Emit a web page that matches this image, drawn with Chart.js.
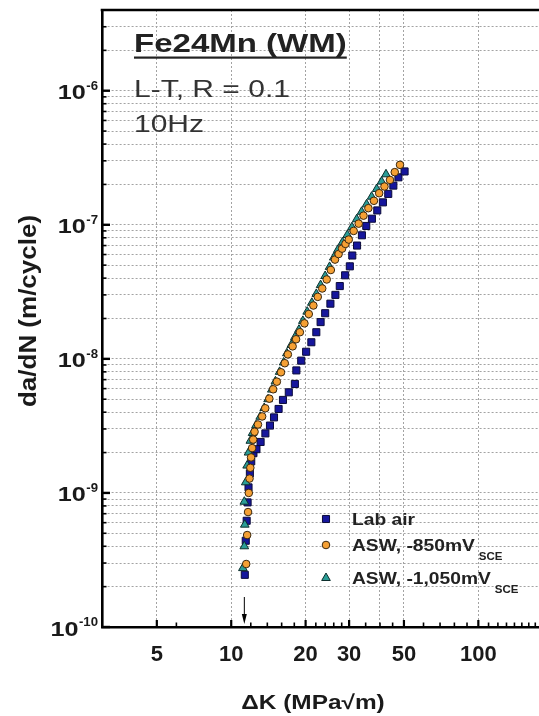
<!DOCTYPE html>
<html>
<head>
<meta charset="utf-8">
<script src="https://cdn.jsdelivr.net/npm/chart.js@4.4.1/dist/chart.umd.min.js"></script>
<style>
  html, body { margin: 0; padding: 0; background: #fff; }
  #wrap { width: 539px; height: 716px; position: relative; }
</style>
</head>
<body>
<div id="wrap"><canvas id="fcgChart"></canvas></div>
<script>
// delta K (MPa sqrt m) and da/dN (m/cycle)
const labAirDK = [11.35, 11.45, 11.55, 11.65, 11.75, 11.9, 12.05, 12.3, 12.65, 13.15, 13.75, 14.35, 14.9, 15.55, 16.2, 17.1, 18.1, 18.35, 19.2, 20.1, 21.1, 22.1, 23.0, 24.0, 25.2, 26.4, 27.5, 28.9, 30.2, 30.9, 32.3, 33.8, 35.2, 37.1, 39.0, 41.1, 43.2, 45.3, 47.5, 50.3];
const labAirRate = [2.45e-10, 4.4e-10, 6.2e-10, 8.5e-10, 1.1e-9, 1.4e-9, 1.72e-9, 1.98e-9, 2.12e-9, 2.4e-9, 2.78e-9, 3.18e-9, 3.66e-9, 4.23e-9, 4.94e-9, 5.63e-9, 6.5e-9, 8.2e-9, 9.7e-9, 1.13e-8, 1.33e-8, 1.58e-8, 1.88e-8, 2.19e-8, 2.58e-8, 3.0e-8, 3.49e-8, 4.2e-8, 4.9e-8, 5.9e-8, 7.0e-8, 8.35e-8, 9.8e-8, 1.11e-7, 1.28e-7, 1.47e-7, 1.7e-7, 1.96e-7, 2.26e-7, 2.5e-7];

const asw850DK = [11.5, 11.6, 11.7, 11.78, 11.86, 11.95, 12.03, 12.15, 12.27, 12.43, 12.83, 13.34, 13.73, 14.26, 14.78, 15.3, 15.9, 16.47, 16.95, 17.72, 18.3, 18.96, 19.78, 20.6, 21.5, 22.4, 23.35, 24.35, 25.3, 26.3, 27.2, 28.1, 29.0, 29.9, 31.3, 32.8, 34.3, 35.9, 37.8, 39.7, 41.7, 43.9, 45.9, 48.2];
const asw850Rate = [2.95e-10, 4.85e-10, 7.2e-10, 1.0e-9, 1.28e-9, 1.54e-9, 1.84e-9, 2.16e-9, 2.5e-9, 2.86e-9, 3.24e-9, 3.72e-9, 4.28e-9, 5.05e-9, 5.93e-9, 6.76e-9, 7.94e-9, 9.28e-9, 1.08e-8, 1.24e-8, 1.4e-8, 1.58e-8, 1.84e-8, 2.16e-8, 2.5e-8, 2.9e-8, 3.35e-8, 3.91e-8, 4.6e-8, 5.5e-8, 6.05e-8, 6.64e-8, 7.2e-8, 7.76e-8, 9.0e-8, 1.02e-7, 1.17e-7, 1.33e-7, 1.51e-7, 1.72e-7, 1.93e-7, 2.16e-7, 2.47e-7, 2.8e-7];

const asw1050DK = [11.15, 11.3, 11.35, 11.3, 11.45, 11.6, 11.75, 11.95, 12.2, 12.6, 13.1, 13.6, 14.1, 14.6, 15.1, 15.7, 16.3, 16.8, 17.5, 18.1, 18.8, 19.5, 20.3, 21.2, 22.1, 23.0, 24.0, 25.0, 26.0, 27.0, 28.2, 29.5, 30.8, 32.2, 33.7, 35.3, 37.0, 38.8, 40.6, 42.3];
const asw1050Rate = [2.75e-10, 4.0e-10, 5.8e-10, 8.6e-10, 1.2e-9, 1.6e-9, 2.0e-9, 2.45e-9, 2.8e-9, 3.2e-9, 3.7e-9, 4.3e-9, 5.0e-9, 5.9e-9, 6.8e-9, 8.0e-9, 9.4e-9, 1.1e-8, 1.27e-8, 1.45e-8, 1.65e-8, 1.92e-8, 2.25e-8, 2.62e-8, 3.05e-8, 3.55e-8, 4.15e-8, 4.85e-8, 5.7e-8, 6.5e-8, 7.4e-8, 8.4e-8, 9.6e-8, 1.1e-7, 1.25e-7, 1.42e-7, 1.62e-7, 1.85e-7, 2.1e-7, 2.38e-7];

// axis ticks
const xTickValues = [5, 6, 10, 12, 14, 16, 18, 20, 22, 24, 26, 28, 30, 35, 40, 45, 50, 60, 70, 80, 90, 100, 110, 120, 130, 140, 150, 160, 170];
const xTickLabels = [5, 10, 20, 30, 50, 100];
const xGridValues = [5, 10, 20, 30, 40, 50, 100];
const yDecades = [1e-10, 1e-9, 1e-8, 1e-7, 1e-6];
const yDecadeLabels = ['-10', '-9', '-8', '-7', '-6'];
const yMinorSteps = [2, 3, 4, 5, 6, 7, 8, 9];
const arrowDK = 11.3;

const FONT = '"Liberation Sans", Arial, Helvetica, sans-serif';

function toPoints(xs, ys) {
    return xs.map((x, i) => ({ x: x, y: ys[i] }));
}

function isDecade(v) {
    return yDecades.some(d => Math.abs(v / d - 1) < 1e-6);
}

// text drawn with a horizontal stretch, as in the source figure
function stretchText(ctx, text, x, y, font, align, sx, baseline) {
    ctx.save();
    ctx.font = font;
    ctx.textBaseline = baseline || 'alphabetic';
    ctx.textAlign = 'left';
    const w = ctx.measureText(text).width * sx;
    let left = x;
    if (align === 'right') left = x - w;
    else if (align === 'center') left = x - w / 2;
    ctx.translate(left, y);
    ctx.scale(sx, 1);
    ctx.fillText(text, 0, 0);
    ctx.restore();
    return w;
}

const yTickValues = [];
yDecades.forEach(d => {
    yTickValues.push(d);
    if (d < 1e-6) yMinorSteps.forEach(m => yTickValues.push(m * d));
});
yTickValues.push(2e-6, 3e-6, 4e-6);

const decorations = {
    id: 'decorations',
    afterDatasetsDraw(chart) {
        const { ctx, chartArea, scales: { x, y } } = chart;
        ctx.save();
        ctx.strokeStyle = '#000';
        // inward tick marks
        x.ticks.forEach(t => {
            const px = x.getPixelForValue(t.value);
            const major = xTickLabels.includes(t.value);
            ctx.lineWidth = major ? 2.2 : 1.6;
            ctx.beginPath();
            ctx.moveTo(px, chartArea.bottom);
            ctx.lineTo(px, chartArea.bottom - (major ? 7 : 4.5));
            ctx.stroke();
        });
        y.ticks.forEach(t => {
            const py = y.getPixelForValue(t.value);
            const major = isDecade(t.value);
            ctx.lineWidth = major ? 2.4 : 1.6;
            ctx.beginPath();
            ctx.moveTo(chartArea.left, py);
            ctx.lineTo(chartArea.left + (major ? 8 : 4.5), py);
            ctx.stroke();
        });
        // top frame line
        ctx.lineWidth = 2.6;
        ctx.beginPath();
        ctx.moveTo(chartArea.left - 1.3, chartArea.top);
        ctx.lineTo(chartArea.right, chartArea.top);
        ctx.stroke();

        // arrow at the threshold
        const ax = x.getPixelForValue(arrowDK);
        ctx.lineWidth = 1;
        ctx.beginPath();
        ctx.moveTo(ax, chartArea.bottom - 30);
        ctx.lineTo(ax, chartArea.bottom - 8);
        ctx.stroke();
        ctx.fillStyle = '#000';
        ctx.beginPath();
        ctx.moveTo(ax, chartArea.bottom - 3);
        ctx.lineTo(ax - 2.5, chartArea.bottom - 13);
        ctx.lineTo(ax + 2.5, chartArea.bottom - 13);
        ctx.closePath();
        ctx.fill();

        ctx.fillStyle = '#1a1a1a';
        // y tick labels 10^n
        yDecades.forEach((d, i) => {
            const py = y.getPixelForValue(d);
            const ew = stretchText(ctx, yDecadeLabels[i], 98, py - 1, 'bold 12px ' + FONT, 'right', 1.1);
            stretchText(ctx, '10', 98 - ew - 0.5, py + 8.5, 'bold 21px ' + FONT, 'right', 1.2);
        });

        // axis titles
        ctx.save();
        ctx.translate(30, 311);
        ctx.rotate(-Math.PI / 2);
        stretchText(ctx, 'da/dN (m/cycle)', 0, 0, 'bold 23px ' + FONT, 'center', 1.13, 'middle');
        ctx.restore();
        stretchText(ctx, '\u0394K (MPa\u221Am)', 313, 703, 'bold 20px ' + FONT, 'center', 1.22, 'middle');

        // annotation block
        ctx.fillStyle = '#222';
        const tw = stretchText(ctx, 'Fe24Mn (WM)', 134, 52, 'bold 26px ' + FONT, 'left', 1.27);
        ctx.fillRect(134, 56.5, tw, 2.2);
        ctx.fillStyle = '#333';
        stretchText(ctx, 'L-T, R = 0.1', 134, 97, '24px ' + FONT, 'left', 1.25);
        stretchText(ctx, '10Hz', 134, 132, '24px ' + FONT, 'left', 1.25);

        // legend
        const rows = [
            { ds: 0, y: 519, text: 'Lab air', sub: '' },
            { ds: 1, y: 545, text: 'ASW, -850mV', sub: 'SCE' },
            { ds: 2, y: 578, text: 'ASW, -1,050mV', sub: 'SCE' }
        ];
        rows.forEach(r => {
            const ds = chart.data.datasets[r.ds];
            ctx.save();
            ctx.fillStyle = ds.backgroundColor;
            ctx.strokeStyle = ds.borderColor;
            ctx.lineWidth = 1;
            Chart.helpers.drawPoint(ctx, { pointStyle: ds.pointStyle, radius: ds.pointRadius, rotation: 0, borderWidth: 1 }, 326, r.y);
            ctx.restore();
            ctx.fillStyle = '#222';
            const w = stretchText(ctx, r.text, 352, r.y + 6, 'bold 17px ' + FONT, 'left', 1.13);
            if (r.sub) stretchText(ctx, r.sub, 352 + w + 4, r.y + 14.5, 'bold 10px ' + FONT, 'left', 1.15);
        });
        ctx.restore();
    }
};

const ctx = document.getElementById('fcgChart').getContext('2d');
new Chart(ctx, {
    type: 'scatter',
    data: {
        datasets: [
            {
                label: 'Lab air',
                data: toPoints(labAirDK, labAirRate),
                pointStyle: 'rect',
                pointRadius: 5,
                backgroundColor: '#16169c',
                borderColor: '#0b0b3a',
                borderWidth: 1,
                order: 2
            },
            {
                label: 'ASW, -850mV SCE',
                data: toPoints(asw850DK, asw850Rate),
                pointStyle: 'circle',
                pointRadius: 3.8,
                backgroundColor: '#f5a034',
                borderColor: '#3a2810',
                borderWidth: 1,
                order: 0
            },
            {
                label: 'ASW, -1,050mV SCE',
                data: toPoints(asw1050DK, asw1050Rate),
                pointStyle: 'triangle',
                pointRadius: 5,
                backgroundColor: '#2a9d96',
                borderColor: '#0c2e2c',
                borderWidth: 1,
                order: 1
            }
        ]
    },
    options: {
        responsive: true,
        maintainAspectRatio: false,
        animation: false,
        layout: { autoPadding: false, padding: { top: 10, right: 0, left: 0, bottom: 0 } },
        plugins: {
            legend: { display: false },
            tooltip: { enabled: false }
        },
        scales: {
            x: {
                type: 'logarithmic',
                min: 3,
                max: 176,
                afterBuildTicks: scale => {
                    scale.ticks = xTickValues.map(v => ({ value: v }));
                },
                afterFit: scale => {
                    scale.height = 89;
                    scale.paddingLeft = 0;
                    scale.paddingRight = 0;
                },
                ticks: {
                    autoSkip: false,
                    maxRotation: 0,
                    padding: 15,
                    color: '#1a1a1a',
                    font: { family: FONT, size: 22, weight: 'bold' },
                    callback: value => xTickLabels.includes(value) ? String(value) : ''
                },
                grid: {
                    drawTicks: false,
                    lineWidth: 1,
                    color: c => (c.tick && xGridValues.includes(c.tick.value)) ? '#a3a3a3' : 'rgba(0,0,0,0)'
                },
                border: { color: '#000', width: 2.6, dash: [2, 2] }
            },
            y: {
                type: 'logarithmic',
                min: 1e-10,
                max: 4e-6,
                afterBuildTicks: scale => {
                    scale.ticks = yTickValues.map(v => ({ value: v }));
                },
                afterFit: scale => {
                    scale.width = 102;
                    scale.paddingTop = 0;
                    scale.paddingBottom = 0;
                },
                ticks: { display: false },
                grid: {
                    drawTicks: false,
                    lineWidth: 1,
                    color: '#a3a3a3'
                },
                border: { color: '#000', width: 2.6, dash: [2, 2] }
            }
        }
    },
    plugins: [decorations]
});
</script>
</body>
</html>
